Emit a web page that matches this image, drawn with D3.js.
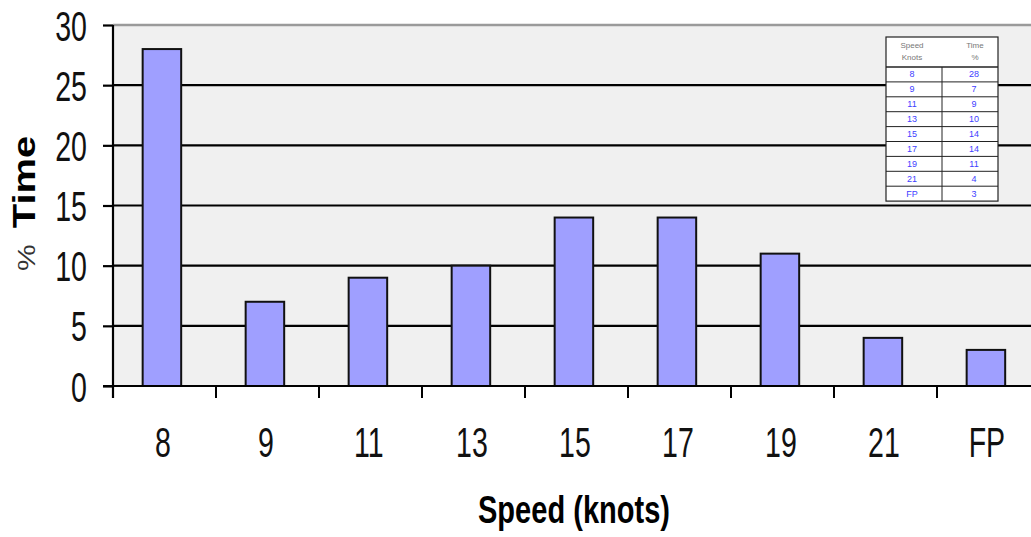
<!DOCTYPE html>
<html><head><meta charset="utf-8">
<script src="https://cdn.jsdelivr.net/npm/d3@7"></script>
<style>
body{margin:0;background:#fff;}
svg{display:block;}
text{font-family:"Liberation Sans",Arial,sans-serif;}
</style></head>
<body>
<svg id="c" width="1031" height="537"></svg>
<script>
const categories = ["8","9","11","13","15","17","19","21","FP"];
const timePct = [28,7,9,10,14,14,11,4,3];
const yTicks = [0,5,10,15,20,25,30];
const tableHeader = [["Speed","Knots"],["Time","%"]];

const svg = d3.select("#c");
const pLeft = 113, pRight = 1040, pTop = 25, pBottom = 386;
const SX = 0.68; // horizontal squeeze of the narrow tick font

const x = d3.scaleBand().domain(categories).range([pLeft, pRight]).paddingInner(0.626).paddingOuter(0.313).align(0.46);
const xEdge = d3.scaleLinear().domain([0, categories.length]).range([pLeft, pRight]);
const y = d3.scaleLinear().domain([0,30]).range([pBottom, pTop]);

// plot background
svg.append("rect").attr("x", pLeft).attr("y", pTop).attr("width", pRight-pLeft).attr("height", pBottom-pTop).attr("fill", "#f0f0f0");
svg.append("line").attr("x1", pLeft).attr("x2", pRight).attr("y1", pTop).attr("y2", pTop).attr("stroke", "#9a9a9a").attr("stroke-width", 2.5);

// gridlines
svg.append("g").selectAll("line").data(yTicks.filter(d => d>0 && d<30)).join("line")
  .attr("x1", pLeft).attr("x2", pRight).attr("y1", d=>y(d)).attr("y2", d=>y(d))
  .attr("stroke", "#000").attr("stroke-width", 2.2);

// bars
svg.append("g").selectAll("rect").data(categories).join("rect")
  .attr("x", d => x(d)).attr("width", x.bandwidth())
  .attr("y", (d,i) => y(timePct[i])).attr("height", (d,i) => y(0)-y(timePct[i]))
  .attr("fill", "#9f9fff").attr("stroke", "#111").attr("stroke-width", 2);

// y axis
const ya = svg.append("g").attr("transform", `translate(${pLeft},0)`)
  .call(d3.axisLeft(y).tickValues(yTicks).tickSize(10).tickPadding(14));
ya.select(".domain").remove();
ya.selectAll(".tick line").attr("stroke", "#000").attr("stroke-width", 2.2);
ya.selectAll(".tick text").attr("x", 0).attr("dy", null).attr("y", 15)
  .attr("transform", `translate(-26,0) scale(${SX},1)`)
  .attr("font-size", 42).attr("fill", "#111");
svg.append("line").attr("x1", pLeft).attr("x2", pLeft).attr("y1", pTop).attr("y2", pBottom + 12).attr("stroke", "#000").attr("stroke-width", 2.2);

// x axis
svg.append("line").attr("x1", pLeft-10).attr("x2", pRight).attr("y1", pBottom).attr("y2", pBottom).attr("stroke", "#000").attr("stroke-width", 2.2);
svg.append("g").selectAll("line").data(d3.range(categories.length+1)).join("line")
  .attr("x1", d => xEdge(d)).attr("x2", d => xEdge(d)).attr("y1", pBottom).attr("y2", pBottom+12)
  .attr("stroke", "#000").attr("stroke-width", 2);
svg.append("g").selectAll("text").data(categories).join("text")
  .attr("transform", d => `translate(${x(d) + x.bandwidth()/2 + 1},457) scale(${SX},1)`)
  .attr("text-anchor", "middle").attr("font-size", 42).attr("fill", "#111").text(d => d);

// axis titles
svg.append("text").attr("transform", "translate(574,523) scale(0.745,1)").attr("text-anchor", "middle")
  .attr("font-size", 39).attr("font-weight", "bold").attr("fill", "#000").text("Speed (knots)");
const yt = svg.append("text").attr("transform", "translate(35,271) rotate(-90) scale(1,0.8)").attr("text-anchor", "start").attr("fill", "#000");
yt.append("tspan").attr("font-size", 30).attr("fill", "#333").text("%");
yt.append("tspan").attr("font-size", 40).attr("font-weight", "bold").attr("dx", 16).text("Time");

// data table inset
const tx = 886, tw = 112, colSplit = 942, ty = 37, headH = 30, rowH = 14.9;
const tbl = svg.append("g");
tbl.append("rect").attr("x", tx).attr("y", ty).attr("width", tw).attr("height", headH + rowH*categories.length).attr("fill", "#fff").attr("stroke", "#222").attr("stroke-width", 1.2);
tbl.append("line").attr("x1", tx).attr("x2", tx+tw).attr("y1", ty+headH).attr("y2", ty+headH).attr("stroke", "#222").attr("stroke-width", 1.5);
tbl.append("line").attr("x1", colSplit).attr("x2", colSplit).attr("y1", ty+headH).attr("y2", ty+headH+rowH*categories.length).attr("stroke", "#222").attr("stroke-width", 1);
tbl.selectAll(".rl").data(d3.range(1, categories.length)).join("line")
  .attr("x1", tx).attr("x2", tx+tw).attr("y1", d => ty+headH+rowH*d).attr("y2", d => ty+headH+rowH*d).attr("stroke", "#222").attr("stroke-width", 1);
const cx1 = (tx+colSplit)/2, cx2 = (colSplit+tx+tw)/2;
tableHeader.forEach((h,j) => {
  h.forEach((t,k) => {
    tbl.append("text").attr("x", j===0?cx1-2:cx2+5).attr("y", ty+11+k*12).attr("text-anchor","middle")
      .attr("font-family","DejaVu Sans, sans-serif").attr("font-size", 8).attr("fill","#777").text(t);
  });
});
categories.forEach((c,i) => {
  const yy = ty+headH+rowH*i+rowH/2+3;
  tbl.append("text").attr("x", cx1-2).attr("y", yy).attr("text-anchor","middle").attr("font-family","DejaVu Sans, sans-serif").attr("font-size",9).attr("fill","#4040ff").text(c);
  tbl.append("text").attr("x", cx2+4).attr("y", yy).attr("text-anchor","middle").attr("font-family","DejaVu Sans, sans-serif").attr("font-size",9).attr("fill","#4040ff").text(timePct[i]);
});
</script>
</body></html>
